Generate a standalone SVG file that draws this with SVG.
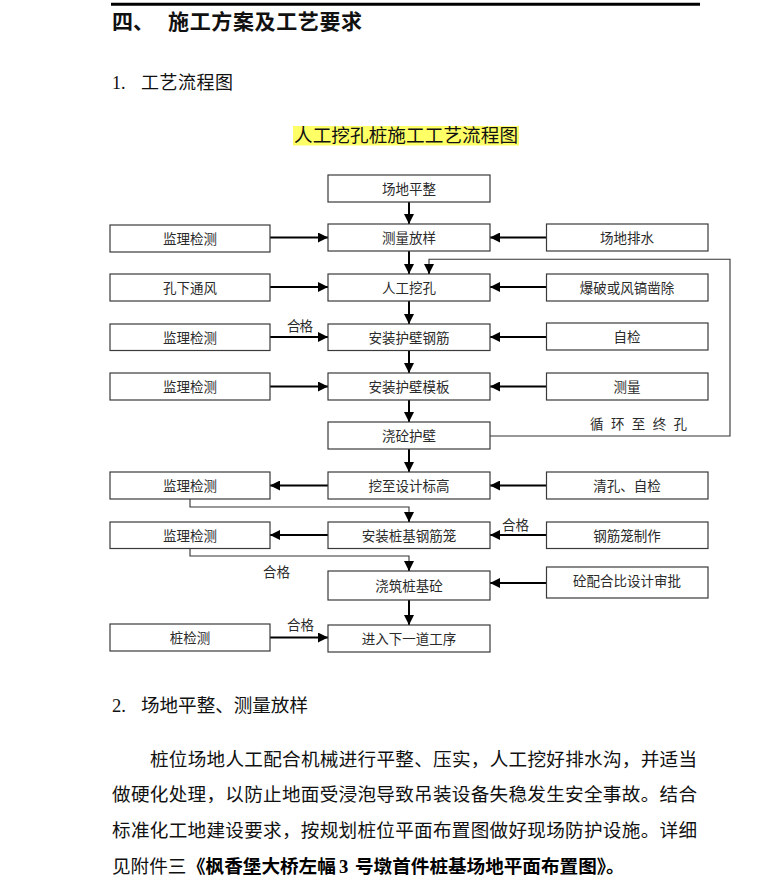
<svg xmlns="http://www.w3.org/2000/svg" width="784" height="882" viewBox="0 0 784 882">
<style>
.bx{fill:#fff;stroke:#3a3a3a;stroke-width:1.2}
.bt{font-family:"Noto Sans CJK SC","Noto Sans CJK JP",sans-serif;font-size:13.5px;fill:#2a2a2a;text-anchor:middle}
.lb{font-family:"Noto Sans CJK SC",sans-serif;font-size:13.5px;fill:#2a2a2a}
.ar{fill:none;stroke:#000;stroke-width:2;marker-end:url(#ah)}
.th{fill:none;stroke:#333;stroke-width:1.1}
.tx{font-family:"Noto Sans CJK SC","Noto Sans CJK JP",sans-serif;fill:#111}
</style>
<defs>
<marker id="ah" markerUnits="userSpaceOnUse" markerWidth="10" markerHeight="10" refX="10" refY="5" orient="auto">
<path d="M0,0 L10,5 L0,10 z" fill="#000"/>
</marker>
</defs>
<rect width="784" height="882" fill="#fff"/>
<line x1="111" y1="4.2" x2="700" y2="4.2" stroke="#000" stroke-width="3"/>
<text class="tx" y="29" font-size="21" font-weight="bold" fill="#000"><tspan x="112">四、</tspan><tspan x="168" textLength="194" lengthAdjust="spacing">施工方案及工艺要求</tspan></text>
<text class="tx" y="89" font-size="18"><tspan x="112" font-family="Liberation Serif,serif">1.</tspan><tspan x="141" textLength="92" lengthAdjust="spacing">工艺流程图</tspan></text>
<rect x="293" y="126" width="226" height="19.5" fill="#ffff66"/>
<text class="tx" x="294" y="142" font-size="18.6" textLength="224" lengthAdjust="spacing">人工挖孔桩施工工艺流程图</text>

<g id="connectors">
<line class="ar" x1="409" y1="202" x2="409" y2="224"/>
<line class="ar" x1="409" y1="251" x2="409" y2="274"/>
<line class="ar" x1="409" y1="301" x2="409" y2="324"/>
<line class="ar" x1="409" y1="350" x2="409" y2="373"/>
<line class="ar" x1="409" y1="400" x2="409" y2="422"/>
<line class="ar" x1="409" y1="449" x2="409" y2="472"/>
<line class="ar" x1="409" y1="600" x2="409" y2="625"/>
<line class="ar" x1="270" y1="237.5" x2="328" y2="237.5"/>
<line class="ar" x1="546.5" y1="237.5" x2="490" y2="237.5"/>
<line class="ar" x1="270" y1="287" x2="328" y2="287"/>
<line class="ar" x1="546.5" y1="287" x2="490" y2="287"/>
<line class="ar" x1="270" y1="337" x2="328" y2="337"/>
<line class="ar" x1="546.5" y1="337" x2="490" y2="337"/>
<line class="ar" x1="270" y1="386.5" x2="328" y2="386.5"/>
<line class="ar" x1="546.5" y1="386.5" x2="490" y2="386.5"/>
<line class="ar" x1="328" y1="485.5" x2="270" y2="485.5"/>
<line class="ar" x1="546.5" y1="485.5" x2="490" y2="485.5"/>
<line class="ar" x1="328" y1="535" x2="270" y2="535"/>
<line class="ar" x1="546.5" y1="535" x2="490" y2="535"/>
<line class="ar" x1="546.5" y1="583" x2="490" y2="583"/>
<line class="ar" x1="270" y1="637.5" x2="328" y2="637.5"/>
<path class="th" d="M490,436 H730 V259.3 H429 V266"/>
<line class="ar" x1="429" y1="264" x2="429" y2="274" stroke-width="1.2"/>
<path class="th" d="M190,499 V507 H409 V514"/>
<line class="ar" x1="409" y1="512" x2="409" y2="522" stroke-width="1.2"/>
<path class="th" d="M190,548 V556 H409 V563"/>
<line class="ar" x1="409" y1="561" x2="409" y2="571" stroke-width="1.2"/>
<text class="lb" x="287" y="330.5" textLength="26" lengthAdjust="spacing">合格</text>
<text class="lb" x="502" y="529.5" textLength="27" lengthAdjust="spacing">合格</text>
<text class="lb" x="263" y="576.5" textLength="27" lengthAdjust="spacing">合格</text>
<text class="lb" x="287" y="629.5" textLength="27" lengthAdjust="spacing">合格</text>
<text class="lb" x="590" y="428.5" textLength="97" lengthAdjust="spacing">循 环 至 终 孔</text>
</g>

<g id="n1"><rect class="bx" x="328" y="175" width="162" height="27"/><text class="bt" x="409" y="193.5">场地平整</text></g>
<g id="n2"><rect class="bx" x="328" y="224" width="162" height="27"/><text class="bt" x="409" y="242.5">测量放样</text></g>
<g id="n2l"><rect class="bx" x="110" y="225" width="160" height="27"/><text class="bt" x="190" y="243.5">监理检测</text></g>
<g id="n2r"><rect class="bx" x="546.5" y="224" width="161.5" height="27"/><text class="bt" x="627" y="242.5">场地排水</text></g>
<g id="n3"><rect class="bx" x="328" y="274" width="162" height="27"/><text class="bt" x="409" y="292.5">人工挖孔</text></g>
<g id="n3l"><rect class="bx" x="110" y="274" width="160" height="27"/><text class="bt" x="190" y="292.5">孔下通风</text></g>
<g id="n3r"><rect class="bx" x="546.5" y="274" width="161.5" height="27"/><text class="bt" x="627" y="292.5">爆破或风镐凿除</text></g>
<g id="n4"><rect class="bx" x="328" y="324" width="162" height="26.5"/><text class="bt" x="409" y="342.5">安装护壁钢筋</text></g>
<g id="n4l"><rect class="bx" x="110" y="324" width="160" height="26.5"/><text class="bt" x="190" y="342.5">监理检测</text></g>
<g id="n4r"><rect class="bx" x="546.5" y="323" width="161.5" height="27"/><text class="bt" x="627" y="342">自检</text></g>
<g id="n5"><rect class="bx" x="328" y="373" width="162" height="27"/><text class="bt" x="409" y="391.5">安装护壁模板</text></g>
<g id="n5l"><rect class="bx" x="110" y="373" width="160" height="27"/><text class="bt" x="190" y="391.5">监理检测</text></g>
<g id="n5r"><rect class="bx" x="546.5" y="373" width="161.5" height="27"/><text class="bt" x="627" y="391.5">测量</text></g>
<g id="n6"><rect class="bx" x="328" y="422" width="162" height="27"/><text class="bt" x="409" y="440.5">浇砼护壁</text></g>
<g id="n7"><rect class="bx" x="328" y="472" width="162" height="27"/><text class="bt" x="409" y="490.5">挖至设计标高</text></g>
<g id="n7l"><rect class="bx" x="110" y="472" width="160" height="27"/><text class="bt" x="190" y="490.5">监理检测</text></g>
<g id="n7r"><rect class="bx" x="546.5" y="472" width="161.5" height="27"/><text class="bt" x="627" y="490.5">清孔、自检</text></g>
<g id="n8"><rect class="bx" x="328" y="522" width="162" height="26.5"/><text class="bt" x="409" y="540.5">安装桩基钢筋笼</text></g>
<g id="n8l"><rect class="bx" x="110" y="522" width="160" height="26.5"/><text class="bt" x="190" y="540.5">监理检测</text></g>
<g id="n8r"><rect class="bx" x="546.5" y="522" width="161.5" height="26.5"/><text class="bt" x="627" y="540.5">钢筋笼制作</text></g>
<g id="n9"><rect class="bx" x="328" y="571" width="162" height="29"/><text class="bt" x="409" y="590.5">浇筑桩基砼</text></g>
<g id="n9r"><rect class="bx" x="546.5" y="567" width="161.5" height="31"/><text class="bt" x="627" y="586">砼配合比设计审批</text></g>
<g id="n10"><rect class="bx" x="328" y="625" width="162" height="27"/><text class="bt" x="409" y="643.5">进入下一道工序</text></g>
<g id="n10l"><rect class="bx" x="110" y="624" width="160" height="27"/><text class="bt" x="190" y="642.5">桩检测</text></g>

<text class="tx" y="712" font-size="18.6"><tspan x="112" font-family="Liberation Serif,serif">2.</tspan><tspan x="141" textLength="167" lengthAdjust="spacing">场地平整、测量放样</tspan></text>
<text class="tx" x="150" y="765.5" font-size="18.6" textLength="547" lengthAdjust="spacing">桩位场地人工配合机械进行平整、压实，人工挖好排水沟，并适当</text>
<text class="tx" x="112" y="801" font-size="18.6" textLength="585" lengthAdjust="spacing">做硬化处理，以防止地面受浸泡导致吊装设备失稳发生安全事故。结合</text>
<text class="tx" x="112" y="837" font-size="18.6" textLength="585" lengthAdjust="spacing">标准化工地建设要求，按规划桩位平面布置图做好现场防护设施。详细</text>
<text class="tx" y="872.5" font-size="18.6"><tspan x="112">见附件三</tspan><tspan x="187" font-weight="bold" fill="#000">《枫香堡大桥左幅</tspan><tspan x="339" font-weight="bold" fill="#000" font-family="Liberation Serif,serif">3</tspan><tspan x="355" font-weight="bold" fill="#000">号墩首件桩基场地平面布置图》。</tspan></text>
</svg>
